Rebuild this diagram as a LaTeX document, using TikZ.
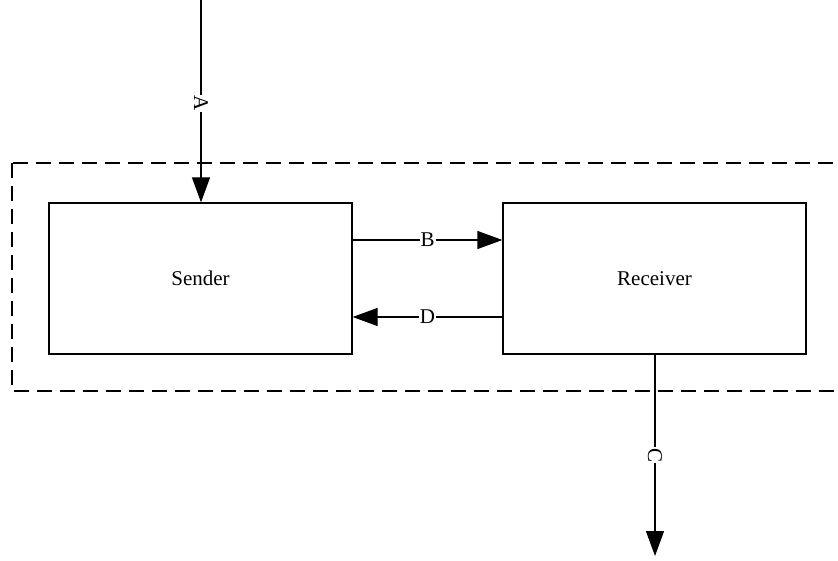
\documentclass[tikz,border=0pt]{standalone}
\usepackage{fontspec}
\setmainfont{Liberation Serif}
\usetikzlibrary{arrows.meta}
\begin{document}
\begin{tikzpicture}[x=1pt,y=-1pt,
  blk/.style={draw,line width=1.3pt,minimum width=303pt,minimum height=151pt,font=\fontsize{21}{24}\selectfont},
  conn/.style={line width=1.3pt,-{Triangle[length=25pt,width=18pt]}},
  lab/.style={fill=white,inner sep=1pt,font=\fontsize{21}{24}\selectfont}]
\useasboundingbox (0,0) rectangle (838,561);
\draw[line width=1.3pt,dash pattern=on 15pt off 8pt] (12,163) rectangle (850,391);
\node[blk] (s) at (200.5,278.5) {Sender};
\node[blk] (r) at (654.5,278.5) {Receiver};
\coordinate (top) at (201,0);
\coordinate (bot) at (655,556);
\draw[conn] (top) -- node[lab,rotate=-90,pos=0.51] {A} (s.north -| top);
\draw[conn] (s.east |- 0,240) -- node[lab,pos=0.5] {B} (r.west |- 0,240);
\draw[conn] (r.west |- 0,317) -- node[lab,pos=0.5] {D} (s.east |- 0,317);
\draw[conn] (r.south -| bot) -- node[lab,rotate=-90,pos=0.5] {C} (bot);
\end{tikzpicture}
\end{document}
